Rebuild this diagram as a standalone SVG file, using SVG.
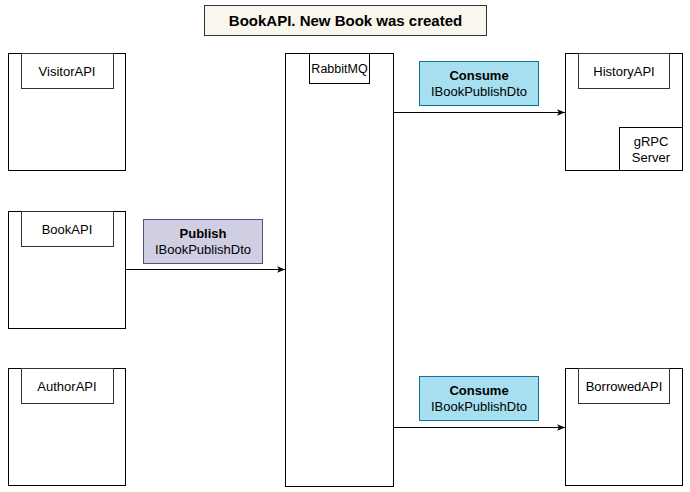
<svg xmlns="http://www.w3.org/2000/svg" width="690" height="492" viewBox="0 0 690 492">
<style>
text{font-family:"Liberation Sans",Arial,sans-serif;font-size:13px;fill:#000;text-anchor:middle}
.b{font-weight:bold}
.t{font-weight:bold;font-size:15px}
.s{font-size:12.5px}
.box{fill:#fff;stroke:#000;stroke-width:1}
.lbl{fill:#fff;stroke:#333;stroke-width:1}
.cons{fill:#a5dff0;stroke:#10739e;stroke-width:1}
.pub{fill:#d0cee2;stroke:#56517e;stroke-width:1}
.edge{fill:none;stroke:#000;stroke-width:1}
</style>
<defs>
<marker id="ah" viewBox="0 0 10 10" refX="10" refY="5" markerWidth="8" markerHeight="8" orient="auto" markerUnits="userSpaceOnUse"><path d="M0,1 L10,5 L0,9 L2.5,5 Z" fill="#000"/></marker>
</defs>
<rect width="690" height="492" fill="#fff"/>
<g id="title"><rect x="204.5" y="5.5" width="282" height="30" fill="#f9f7ed" stroke="#333"/><text class="t" x="345.5" y="26">BookAPI. New Book was created</text></g>
<g id="visitor"><rect class="box" x="8.5" y="53.5" width="117" height="117"/><rect class="lbl" x="21.5" y="53.5" width="92" height="35"/><text x="67" y="76">VisitorAPI</text></g>
<g id="book"><rect class="box" x="8.5" y="211.5" width="117" height="117"/><rect class="lbl" x="21.5" y="211.5" width="92" height="35"/><text x="67" y="233.5">BookAPI</text></g>
<g id="author"><rect class="box" x="8.5" y="368.5" width="117" height="117"/><rect class="lbl" x="21.5" y="368.5" width="92" height="35"/><text x="67" y="391">AuthorAPI</text></g>
<g id="rabbit"><rect class="box" x="285.5" y="53.5" width="108" height="433"/><rect class="box" x="309.5" y="53.5" width="60" height="30"/><text class="s" x="339.5" y="72.5">RabbitMQ</text></g>
<g id="history"><rect class="box" x="565.5" y="53.5" width="117" height="117"/><rect class="lbl" x="578.5" y="53.5" width="91" height="35"/><text x="624" y="76">HistoryAPI</text><rect class="box" x="619.5" y="127.5" width="63" height="43"/><text x="651" y="146">gRPC</text><text x="651" y="161.5">Server</text></g>
<g id="borrowed"><rect class="box" x="565.5" y="368.5" width="117" height="117"/><rect class="lbl" x="578.5" y="368.5" width="91" height="35"/><text x="624" y="391">BorrowedAPI</text></g>
<g id="pub"><rect class="pub" x="143.5" y="219.5" width="119" height="44"/><text class="b" x="203" y="238">Publish</text><text x="203" y="253.5">IBookPublishDto</text></g>
<g id="cons1"><rect class="cons" x="419.5" y="61.5" width="119" height="44"/><text class="b" x="479" y="80">Consume</text><text x="479" y="95.5">IBookPublishDto</text></g>
<g id="cons2"><rect class="cons" x="419.5" y="376.5" width="119" height="44"/><text class="b" x="479" y="395">Consume</text><text x="479" y="410.5">IBookPublishDto</text></g>
<g id="connectors">
<path class="edge" d="M126,269.5 H285" marker-end="url(#ah)"/>
<path class="edge" d="M394,112.5 H565" marker-end="url(#ah)"/>
<path class="edge" d="M394,427.5 H565" marker-end="url(#ah)"/>
</g>
</svg>
